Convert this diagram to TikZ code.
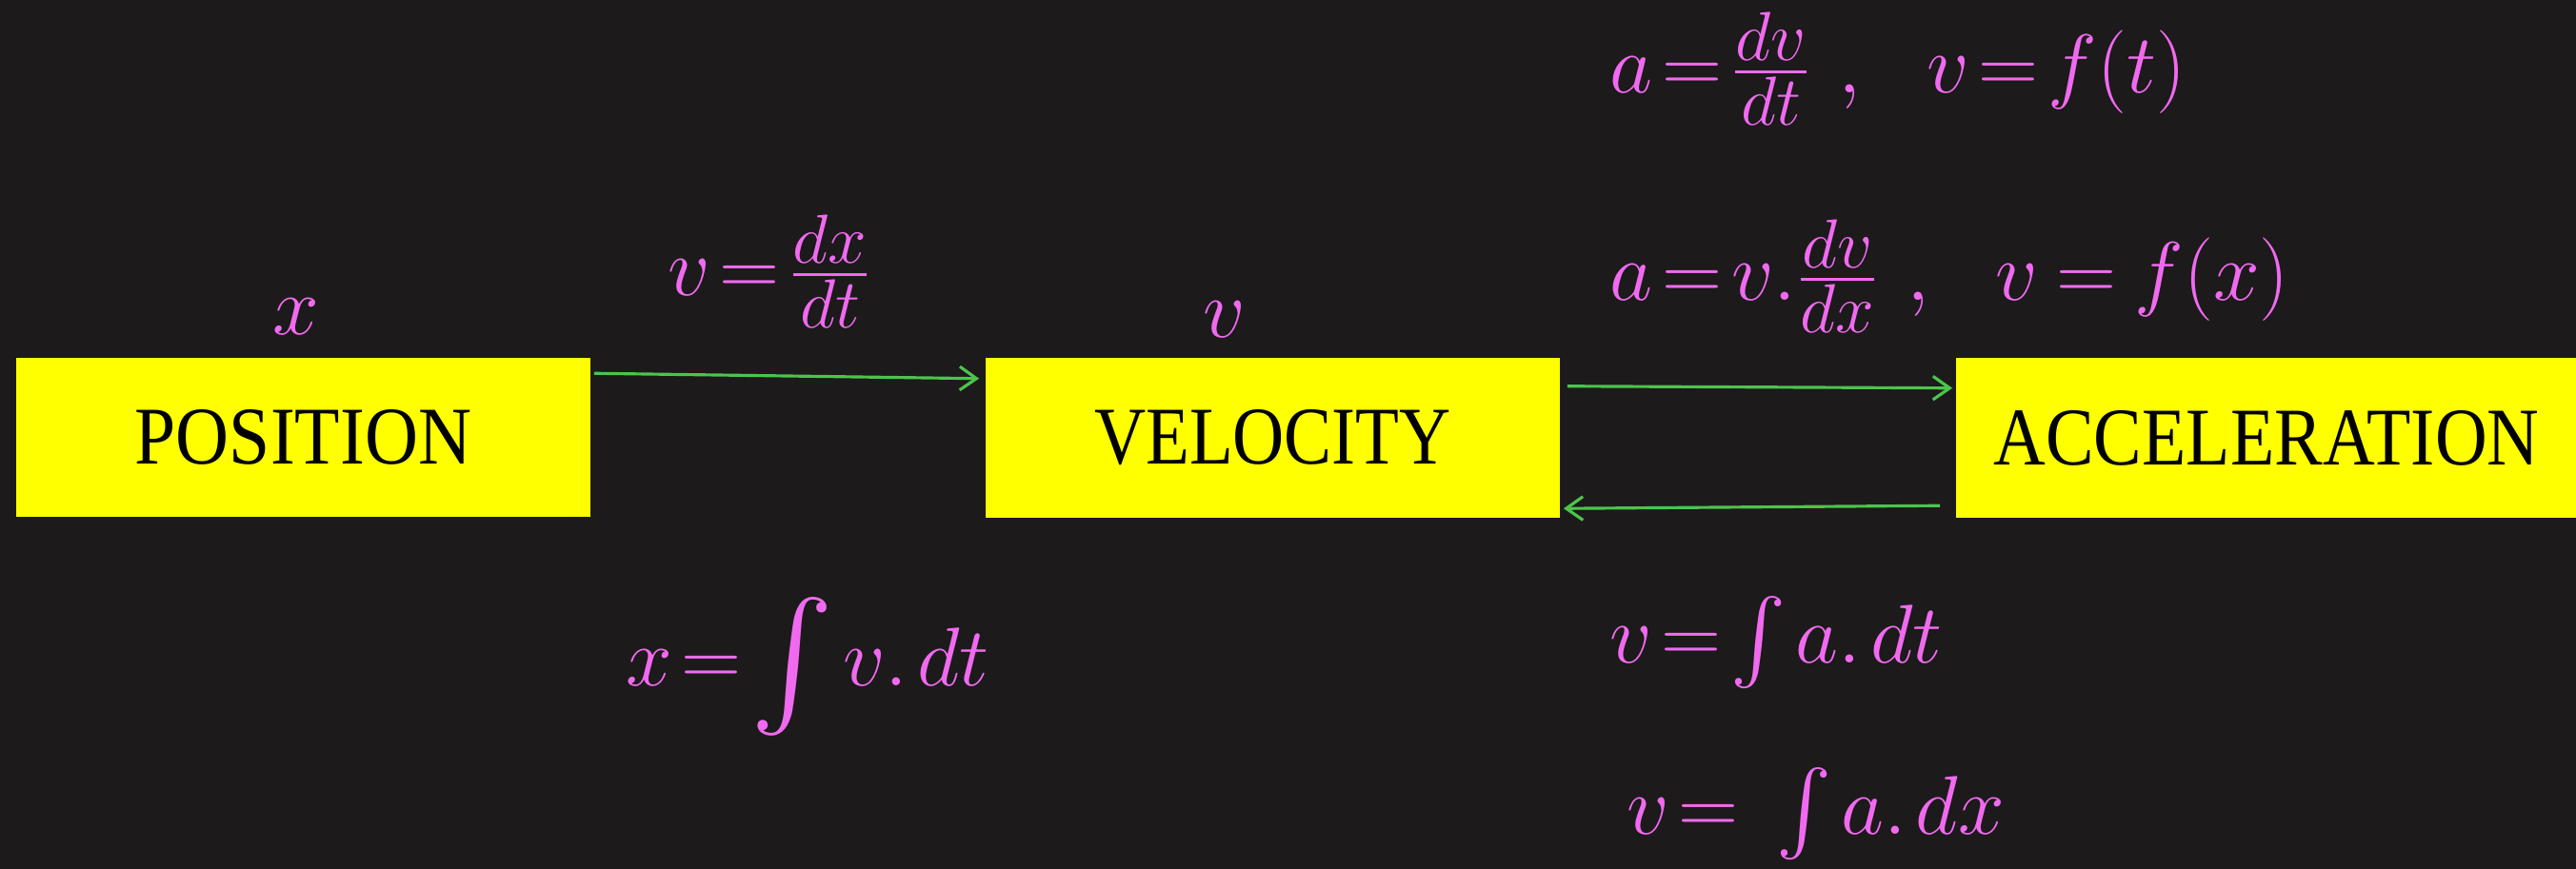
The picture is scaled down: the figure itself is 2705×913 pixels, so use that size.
\documentclass[tikz,border=0pt]{standalone}
\usepackage{amsmath}
\usepackage{fontspec}
\usepackage{graphicx}
\newfontfamily\boxfont{Liberation Serif}
\usetikzlibrary{arrows.meta,calc}
\definecolor{bg}{HTML}{1C1A1A}
\definecolor{hl}{HTML}{FFFF00}
\definecolor{pinkink}{HTML}{F06AF0}
\definecolor{grn}{HTML}{4CC44C}
\newcommand\tightmath{\thickmuskip=2mu\relax\medmuskip=2mu\relax\thinmuskip=2mu\relax}
\tikzset{
 qbox/.style={fill=hl, draw=none, minimum height=1.67cm, inner sep=0pt, text=black,
   font=\boxfont\fontsize{24.5}{28}\selectfont},
 lbl/.style={text=pinkink, inner sep=0pt,
   font=\fontsize{28}{34}\selectfont, execute at begin node=\tightmath},
 conn/.style={draw=grn, line width=0.9pt, -{Straight Barb[length=5pt,width=7pt]}},
}
\begin{document}
\begin{tikzpicture}[x=0.01cm,y=-0.01cm]
\fill[bg] (0,0) rectangle (2705,913);
\useasboundingbox (0,0) rectangle (2705,913);
% boxes
\node[qbox, minimum width=6.03cm] (pos) at (318.5,459.5) {\scalebox{0.9}[1]{POSITION}};
\node[qbox, minimum width=6.03cm] (vel) at (1336.5,460) {\scalebox{0.87}[1]{VELOCITY}};
\node[qbox, minimum width=6.52cm] (acc) at (2380,460) {\scalebox{0.88}[1]{ACCELERATION}};
% connectors
\draw[conn] ($(pos.north east)+(3,17)$) -- ($(vel.north west)+(-6,22)$);
\draw[conn] ($(vel.north east)+(7,30)$) -- ($(acc.north west)+(-3,32)$);
\draw[conn] ($(acc.south west)+(-16,-13)$) -- ($(vel.south east)+(3,-10)$);
% labels
\node[lbl] (lx) at (311,333) {$x$};
\node[lbl] (lv) at (1286,336) {$v$};
\node[lbl] (ld1) at (808,285) {$v = \frac{dx}{dt}$};
\node[lbl] (li1) at (848,700) {$x = \raisebox{-0.3ex}{\scalebox{1.5}{$\int$}}\, v.\,dt$};
\node[lbl, anchor=west] (la1) at (1690,72) {$a = \frac{dv}{dt}\ ,\ \ v = f(t)$};
\node[lbl, anchor=west] (la2) at (1690,290) {$a = v.\frac{dv}{dx}\ ,\ \ v \,=\, f(x)$};
\node[lbl, anchor=west] (li2) at (1690,675) {$v = \int a.\,dt$};
\node[lbl, anchor=west] (li3) at (1708,855) {$v = \ \int a.\,dx$};
\end{tikzpicture}
\end{document}
